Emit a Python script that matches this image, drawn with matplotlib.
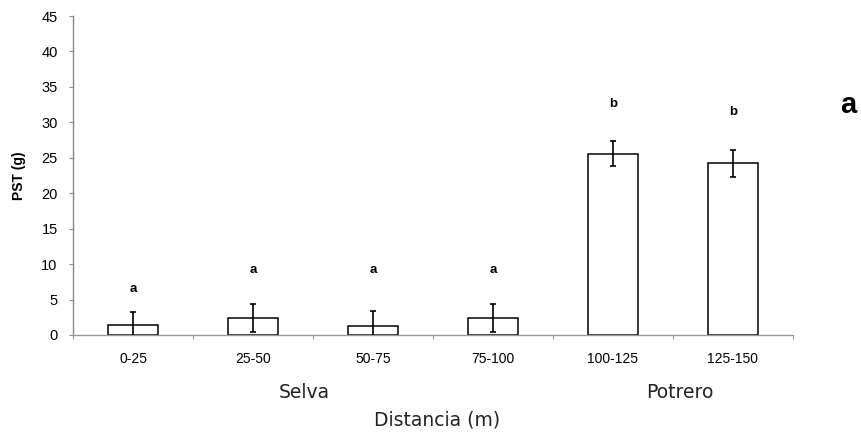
import matplotlib.pyplot as plt
import numpy as np

# data
categories = ["0-25", "25-50", "50-75", "75-100", "100-125", "125-150"]
pst_mean = [1.4, 2.35, 1.2, 2.35, 25.6, 24.2]
pst_err = [1.8, 1.95, 2.2, 2.0, 1.8, 1.9]
letters = ["a", "a", "a", "a", "b", "b"]
letter_y = [6.5, 9.2, 9.2, 9.2, 32.6, 31.5]
groups = ["Selva", "Potrero"]
group_x = [1.93, 5.06]

fig = plt.figure(figsize=(8.61, 4.36), dpi=100)
ax = fig.add_axes([0.0848, 0.2317, 0.8362, 0.7316])

x = np.arange(len(categories)) + 0.5
ax.bar(x, pst_mean, width=0.42, color="white", edgecolor="black", linewidth=1.1, zorder=2)
ax.errorbar(x, pst_mean, yerr=pst_err, fmt="none", ecolor="black",
            elinewidth=1.2, capsize=2, capthick=1.2, zorder=3)

for xi, lab, ly in zip(x, letters, letter_y):
    ax.text(xi, ly, lab, ha="center", va="center", fontsize=9.5,
            fontweight="bold", family="Liberation Sans")

ax.set_xlim(0, 6)
ax.set_ylim(0, 45)
ax.set_yticks(np.arange(0, 50, 5))
ax.set_xticks(np.arange(0, 7), minor=False)
ax.set_xticklabels([])
ax.set_xticks(x, minor=True)
ax.set_xticklabels(categories, minor=True, fontsize=10, family="Liberation Sans")
ax.tick_params(axis="x", which="minor", length=0, pad=12)
ax.tick_params(axis="x", which="major", length=3, color="#999999")
ax.tick_params(axis="y", length=3, color="#888888", pad=8)
for t in ax.get_yticklabels():
    t.set_fontsize(10.5)
    t.set_family("Liberation Sans")

for s in ["top", "right"]:
    ax.spines[s].set_visible(False)
ax.spines["left"].set_color("#888888")
ax.spines["bottom"].set_color("#999999")
ax.spines["left"].set_linewidth(1.0)
ax.spines["bottom"].set_linewidth(1.0)

ax.set_ylabel("PST (g)", fontsize=10, fontweight="bold", family="Liberation Sans", labelpad=11)

for gx, g in zip(group_x, groups):
    ax.text(gx, -0.18, g, transform=ax.get_xaxis_transform(), ha="center",
            va="center", fontsize=13.5, family="DejaVu Sans", color="#222222")
ax.text(3.03, -0.265, "Distancia (m)", transform=ax.get_xaxis_transform(),
        ha="center", va="center", fontsize=13.5, family="DejaVu Sans", color="#222222")

fig.text(0.985, 0.76, "a", ha="center", va="center", fontsize=21,
         fontweight="bold", family="Liberation Sans")

fig.savefig("out.png", dpi=100)
